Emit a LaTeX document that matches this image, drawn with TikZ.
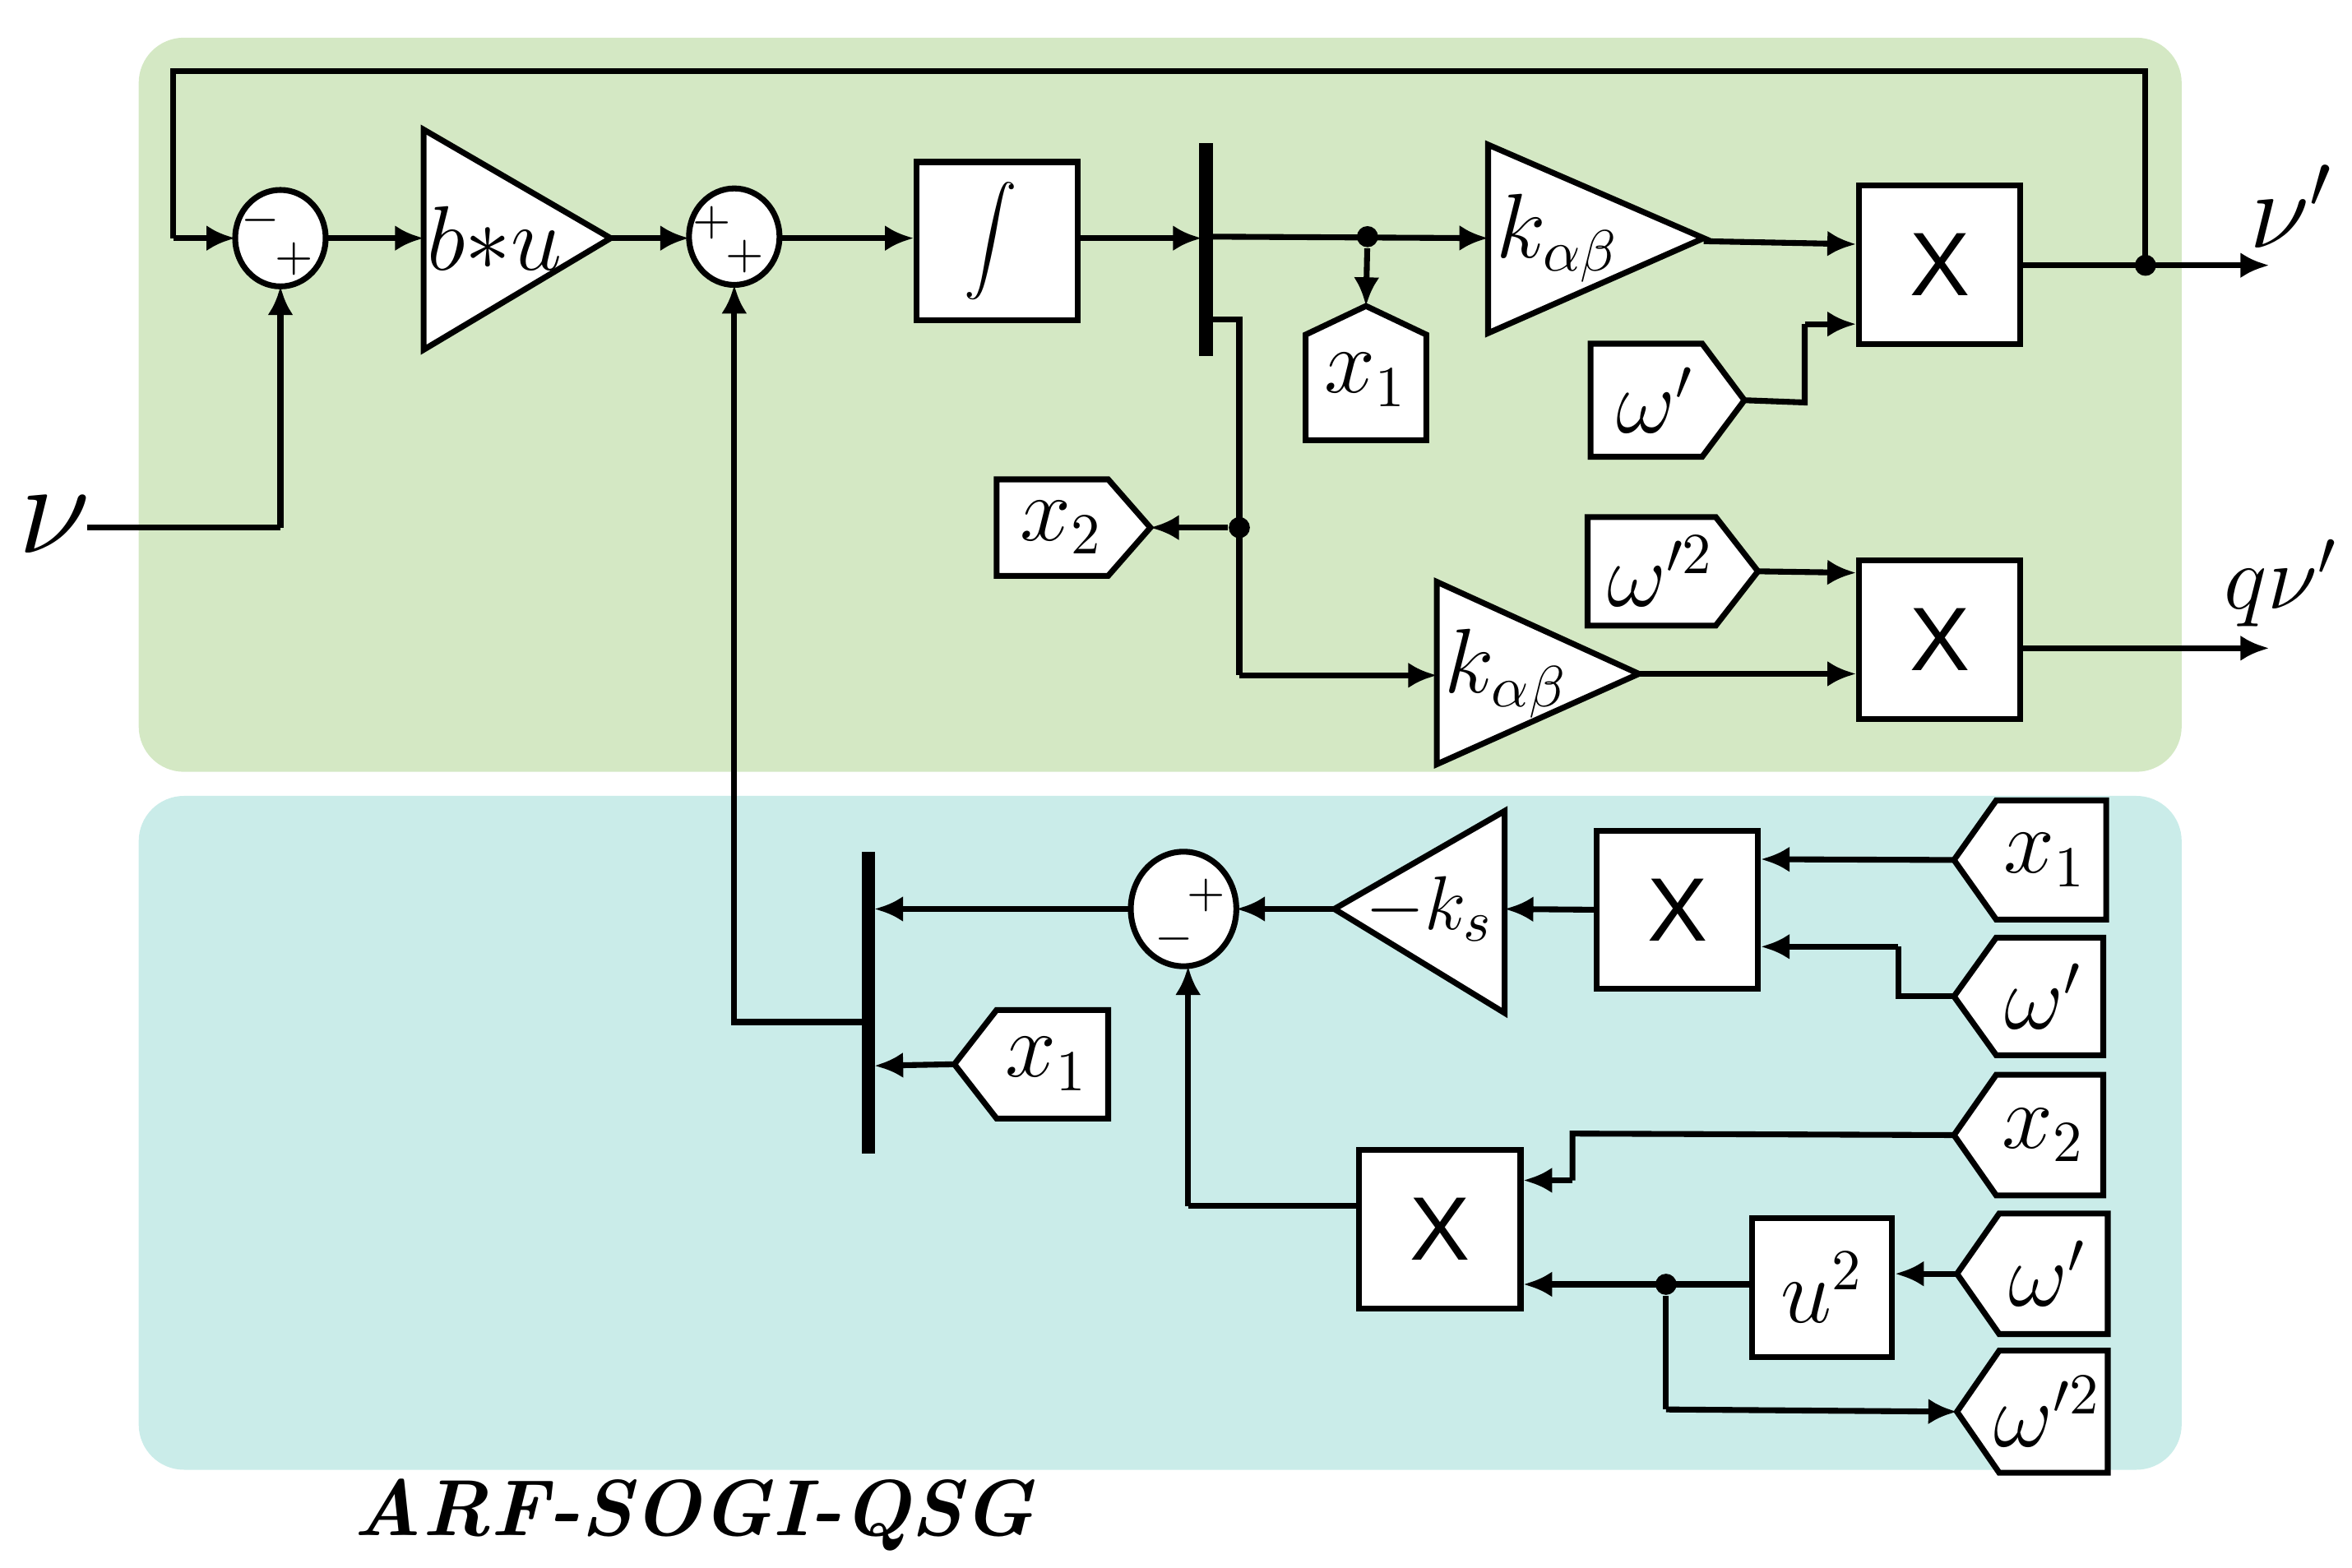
\documentclass[tikz,border=0pt]{standalone}
\usepackage{fontspec}
\newfontfamily\arial{Liberation Sans}
\usetikzlibrary{arrows.meta,calc}
\definecolor{grn}{HTML}{D4E8C4}
\definecolor{cyn}{HTML}{CAECE9}
% tag pointing right: name, x left, x apex, y top, y bottom, text
\newcommand{\tagright}[6]{%
  \draw[blk,fill=white] (#2,#4) -- ({#3-28},#4) -- (#3,{(#4+#5)/2}) -- ({#3-28},#5) -- (#2,#5) -- cycle;
  \coordinate (#1) at (#3,{(#4+#5)/2});
  \node[lbl] at ({(#2+#3)/2-8},{(#4+#5)/2}) {#6};}
% tag pointing left: name, x apex, x right, y top, y bottom, text
\newcommand{\tagleft}[6]{%
  \draw[blk,fill=white] (#3,#4) -- ({#2+28},#4) -- (#2,{(#4+#5)/2}) -- ({#2+28},#5) -- (#3,#5) -- cycle;
  \coordinate (#1) at (#2,{(#4+#5)/2});
  \node[lbl] at ({(#2+#3)/2+10},{(#4+#5)/2}) {#6};}
\begin{document}
\begin{tikzpicture}[x=0.01cm,y=-0.01cm,
  blk/.style={line width=1.1pt},
  ar/.style={blk,-{Latex[length=1.9mm,width=1.7mm]}},
  lbl/.style={font=\fontsize{16}{18}\selectfont},
  box/.style={blk,draw,fill=white,minimum width=1.07cm,minimum height=1.05cm,inner sep=0pt},
  mul/.style={box,font=\arial\fontsize{17}{18}\selectfont},
  sg/.style={font=\fontsize{9}{9}\selectfont,inner sep=0pt},
  bar/.style={line width=2.6pt},
  dot/.style={circle,fill=black,inner sep=0pt,minimum size=1.4mm}]
\useasboundingbox (0,0) rectangle (1560,1040);
\fill[grn,rounded corners=0.3cm] (92,25) rectangle (1447,512);
\fill[cyn,rounded corners=0.3cm] (92,528) rectangle (1447,975);

% ---------- upper part ----------
\draw[blk,fill=white] (186,158) ellipse [x radius=30,y radius=32];
\node[sg] at (173,146) {$-$};
\node[sg] at (195,172) {$+$};
\draw[blk,fill=white] (487,157) ellipse [x radius=30,y radius=32];
\node[sg] at (472,148) {$+$};
\node[sg] at (494,170) {$+$};

\draw[blk,fill=white] (281,86) -- (405,158) -- (281,232) -- cycle;
\node[lbl] at (328,158) {$b{*}u$};
\node[box] (int) at (661.5,160) {};
\node[font=\fontsize{17}{18}\selectfont] at (657,160) {$\displaystyle\int$};
\draw[bar] (800,95) -- (800,236);

\draw[blk,fill=white] (987,96) -- (1130,158) -- (987,221) -- cycle;
\node[lbl] at (1033,158) {$k_{\alpha\beta}$};
\draw[blk,fill=white] (953,386) -- (1087,447) -- (953,507) -- cycle;
\node[lbl] at (999,447) {$k_{\alpha\beta}$};

\node[mul] (m1) at (1286.5,175.5) {X};
\node[mul] (m2) at (1286.5,424.5) {X};

% x1 tag pointing up
\draw[blk,fill=white] (866,292) -- (866,222) -- (906,203) -- (946,222) -- (946,292) -- cycle;
\coordinate (x1t) at (906,203);
\node[lbl] at (906,252) {$x_1$};
\tagright{wt}{1055}{1157}{228}{303}{$\omega'$}
\tagright{x2t}{661}{763}{318}{382}{$x_2$}
\tagright{w2t}{1053}{1166}{343}{415}{$\omega'^2$}

% connectors
\draw[blk] (1423,176) -- (1423,47) -- (115,47) -- (115,158);
\draw[ar] (115,158) -- (156,158);
\draw[ar] (216,158) -- (281,158);
\draw[blk] (58,350) -- (186,350);
\draw[ar] (186,350) -- (186,190);
\draw[ar] (405,158) -- (457,158);
\draw[ar] (517,158) -- (int.west |- 0,158);
\draw[ar] (int.east |- 0,158) -- (797,158);
\draw[ar] (804,157) -- (987,158);
\node[dot] (d1) at (907,157) {};
\draw[ar] (d1) -- (x1t);
\draw[ar] (1130,160) -- (m1.west |- 0,162);
\draw[blk] (wt) -- (1197,267) -- (1197,215);
\draw[ar] (1197,215) -- (m1.west |- 0,215);
\draw[ar] (m1.east |- 0,176) -- (1505,176);
\node[dot] at (1423,176) {};
\node[font=\fontsize{21}{22}\selectfont] at (1520,137) {$\nu'$};
\node[font=\fontsize{23}{24}\selectfont] at (36,348) {$\nu$};

\draw[blk] (804,212) -- (822,212) -- (822,448);
\node[dot] (d2) at (822,350) {};
\draw[ar] (d2) -- (x2t);
\draw[ar] (822,448) -- (953,448);
\draw[ar] (1087,447) -- (m2.west |- 0,447);
\draw[ar] (w2t) -- (m2.west |- 0,380);
\draw[ar] (m2.east |- 0,430) -- (1505,430);
\node[font=\fontsize{18}{18}\selectfont] at (1513,387) {$q\nu'$};

% ---------- lower part ----------
\draw[bar] (576,565) -- (576,765);
\draw[blk,fill=white] (785,603) ellipse [x radius=35,y radius=38];
\node[sg] at (800,594) {$+$};
\node[sg] at (779,623) {$-$};
\draw[blk,fill=white] (885,603) -- (998,538) -- (998,672) -- cycle;
\node[font=\fontsize{15}{16}\selectfont] at (948,603) {$-k_s$};
\node[mul] (m3) at (1112.5,603.5) {X};
\node[mul] (m4) at (955,815.5) {X};
\node[box,minimum width=0.93cm,minimum height=0.92cm,lbl] (sq) at (1208.5,854) {$u^2$};

\tagleft{x1b}{633}{735}{670}{742}{$x_1$}
\tagleft{x1r}{1296}{1397}{531}{610}{$x_1$}
\tagleft{wr}{1296}{1395}{622}{700}{$\omega'$}
\tagleft{x2r}{1296}{1395}{713}{793}{$x_2$}
\tagleft{wr2}{1298}{1398}{805}{885}{$\omega'$}
\tagleft{w2r}{1298}{1398}{896}{977}{$\omega'^2$}

\draw[ar] (576,678) -- (487,678) -- (487,189);
\draw[ar] (x1b) -- (580,707);
\draw[ar] (750,603) -- (580,603);
\draw[ar] (885,603) -- (820,603);
\draw[ar] (m3.west) -- (998,603);
\draw[ar] (x1r) -- (m3.east |- 0,570);
\draw[blk] (wr) -- (1259,661) -- (1259,628);
\draw[ar] (1259,628) -- (m3.east |- 0,628);
\draw[blk] (x2r) -- (1043,752) -- (1043,783);
\draw[ar] (1043,783) -- (m4.east |- 0,783);
\draw[blk] (m4.west |- 0,800) -- (788,800);
\draw[ar] (788,800) -- (788,641);
\draw[ar] (wr2) -- (sq.east |- 0,845);
\draw[ar] (sq.west |- 0,852) -- (m4.east |- 0,852);
\node[dot] (d3) at (1105,852) {};
\draw[blk] (d3) -- (1105,935);
\draw[ar] (1105,935) -- (w2r);

\node[font=\fontsize{15}{16}\selectfont\bfseries\itshape] at (460,1005) {ARF-SOGI-QSG};
\end{tikzpicture}
\end{document}
